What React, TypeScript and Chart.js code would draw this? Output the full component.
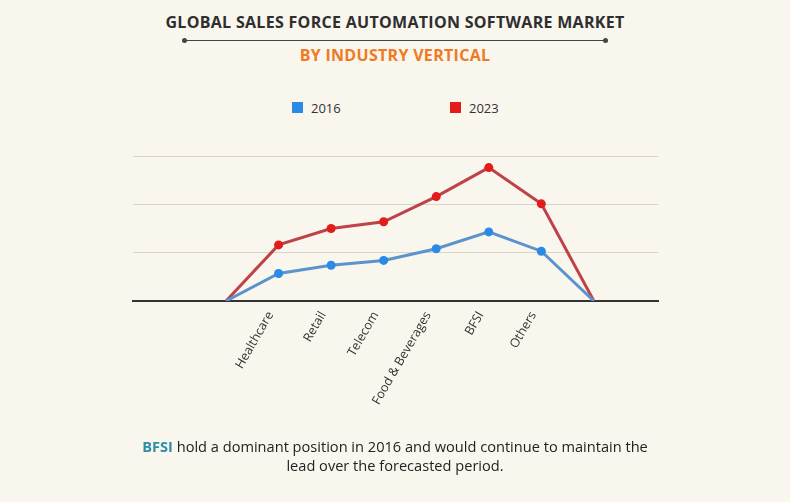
import React, { useEffect, useRef } from "react";
import { Chart, registerables } from "chart.js";

Chart.register(...registerables);

const categories = ["", "Healthcare", "Retail", "Telecom", "Food & Beverages", "BFSI", "Others", ""];
const series2016 = [0, 0.57, 0.74, 0.84, 1.08, 1.43, 1.03, 0];
const series2023 = [0, 1.16, 1.5, 1.64, 2.16, 2.76, 2.01, 0];
const seriesNames = ["2016", "2023"];
const yTicks = [0, 1, 2, 3];

const BG = "#f9f6ee";
const pointColors = ["#2a8ae6", "#e21b1b"];
const lineColors = ["#5b93cc", "#bd4349"];

export default function App() {
  const canvasRef = useRef<HTMLCanvasElement | null>(null);

  useEffect(() => {
    document.body.style.margin = "0";
    const ctx = canvasRef.current!.getContext("2d")!;
    const toPts = (arr: number[]) => arr.map((v, i) => ({ x: i, y: v }));
    const radius = (c: any) => (c.dataIndex === 0 || c.dataIndex === categories.length - 1 ? 0 : 4.5);
    const chart = new Chart(ctx, {
      type: "line",
      data: {
        datasets: [
          {
            label: seriesNames[0],
            data: toPts(series2016),
            borderColor: lineColors[0],
            backgroundColor: pointColors[0],
            borderWidth: 3,
            pointRadius: radius,
            pointBackgroundColor: pointColors[0],
            pointBorderWidth: 0,
            tension: 0,
          },
          {
            label: seriesNames[1],
            data: toPts(series2023),
            borderColor: lineColors[1],
            backgroundColor: pointColors[1],
            borderWidth: 3,
            pointRadius: radius,
            pointBackgroundColor: pointColors[1],
            pointBorderWidth: 0,
            tension: 0,
          },
        ],
      },
      options: {
        animation: false,
        responsive: false,
        maintainAspectRatio: false,
        layout: { padding: { left: 133, right: 132, top: 156, bottom: 0 } },
        plugins: { legend: { display: false }, tooltip: { enabled: false }, title: { display: false } },
        scales: {
          x: {
            type: "linear",
            min: -1.77,
            max: 8.22,
            afterBuildTicks: (scale: any) => {
              scale.ticks = categories
                .map((c, i) => ({ value: i, c }))
                .filter((t) => t.c !== "")
                .map((t) => ({ value: t.value }));
            },
            afterFit: (scale: any) => {
              scale.height = 201;
            },
            grid: { display: false, drawTicks: false },
            border: { display: true, color: "#333333", width: 2 },
            ticks: {
              autoSkip: false,
              minRotation: 60,
              maxRotation: 60,
              padding: 8,
              labelOffset: -8,
              color: "#333333",
              font: { family: "'Open Sans'", size: 12.5 },
              callback: (v: any) => categories[Math.round(Number(v))] ?? "",
            },
          },
          y: {
            min: yTicks[0],
            max: yTicks[yTicks.length - 1],
            afterBuildTicks: (scale: any) => {
              scale.ticks = yTicks.map((v) => ({ value: v }));
            },
            afterFit: (scale: any) => {
              scale.width = 0;
            },
            grid: { color: "#d9d5cb", lineWidth: 1, drawTicks: false },
            border: { display: false },
            ticks: { display: false },
          },
        },
      },
    });
    return () => chart.destroy();
  }, []);

  const legendItem = (i: number, left: number) => (
    <div
      key={i}
      style={{ position: "absolute", left, top: 101, display: "flex", alignItems: "center", height: 13 }}
    >
      <div style={{ width: 11, height: 11, background: pointColors[i] }} />
      <span style={{ marginLeft: 8, fontFamily: "'Open Sans'", fontSize: 13, color: "#333" }}>{seriesNames[i]}</span>
    </div>
  );

  return (
    <div style={{ position: "absolute", left: 0, top: 0, width: 790, height: 502, background: BG, overflow: "hidden" }}>
      <div
        style={{
          position: "absolute",
          left: 0,
          width: 790,
          top: 12,
          textAlign: "center",
          fontFamily: "'Open Sans'",
          fontWeight: 700,
          fontSize: 16,
          letterSpacing: 0.3,
          color: "#2e2e2e",
          lineHeight: "20px",
        }}
      >
        GLOBAL SALES FORCE AUTOMATION SOFTWARE MARKET
      </div>
      <div style={{ position: "absolute", left: 184, top: 39.5, width: 422, height: 1, background: "#444" }} />
      <div style={{ position: "absolute", left: 182, top: 38, width: 5, height: 5, borderRadius: 3, background: "#444" }} />
      <div style={{ position: "absolute", left: 603, top: 38, width: 5, height: 5, borderRadius: 3, background: "#444" }} />
      <div
        style={{
          position: "absolute",
          left: 0,
          width: 790,
          top: 45,
          textAlign: "center",
          fontFamily: "'Open Sans'",
          fontWeight: 700,
          fontSize: 16,
          letterSpacing: 0.3,
          color: "#f07a22",
          lineHeight: "20px",
        }}
      >
        BY INDUSTRY VERTICAL
      </div>
      {legendItem(0, 292)}
      {legendItem(1, 450)}
      <canvas ref={canvasRef} width={790} height={502} style={{ position: "absolute", left: 0, top: 0, width: 790, height: 502 }} />
      <div
        style={{
          position: "absolute",
          left: 0,
          width: 790,
          top: 437,
          textAlign: "center",
          fontFamily: "'Open Sans'",
          fontSize: 14.6,
          color: "#222",
          lineHeight: "19px",
        }}
      >
        <span style={{ color: "#2b8fa8", fontWeight: 700 }}>BFSI</span> hold a dominant position in 2016 and would continue to maintain the
        <br />
        lead over the forecasted period.
      </div>
    </div>
  );
}
